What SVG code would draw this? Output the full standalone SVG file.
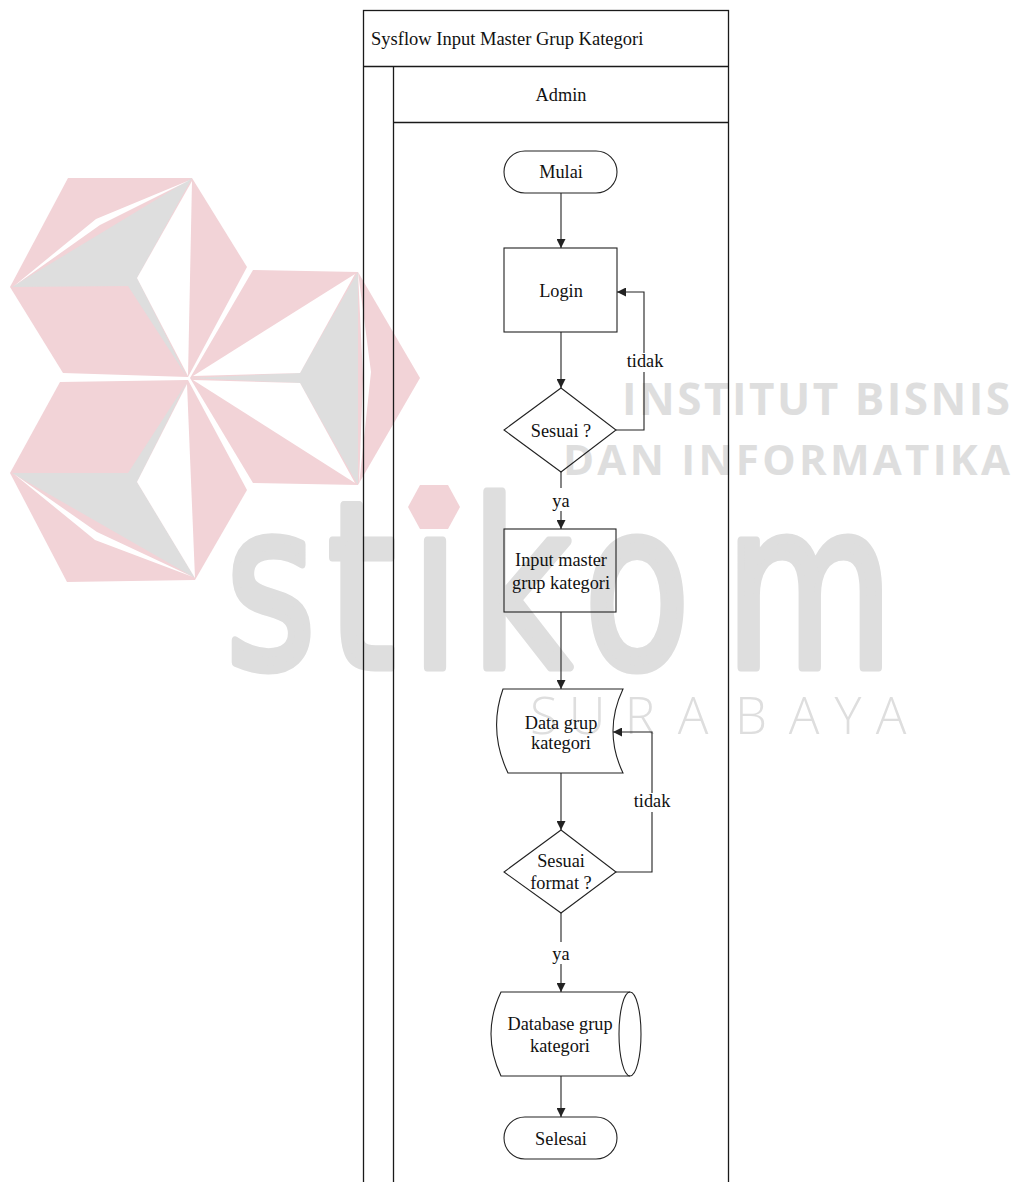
<svg xmlns="http://www.w3.org/2000/svg" width="1013" height="1182" viewBox="0 0 1013 1182">
<defs>
<marker id="arr" viewBox="0 0 10 10" refX="10" refY="5" markerUnits="userSpaceOnUse" markerWidth="9" markerHeight="9" orient="auto">
<path d="M0,0 L10,5 L0,10 z" fill="#222"/>
</marker>
<style>
.pk{fill:#f2d3d7;stroke:none}
.gr{fill:#dedede;stroke:none}
.wh{fill:#ffffff;stroke:none}
.wm{fill:#dedede}
.ln{fill:none;stroke:#222;stroke-width:1.1}
.fr{fill:none;stroke:#1a1a1a;stroke-width:1.3}
.sh{fill:none;stroke:#222;stroke-width:1.1}
.tx{font-family:"Liberation Serif","Times New Roman",serif;font-size:18.3px;fill:#111;text-anchor:middle}
.ti{font-family:"Liberation Serif","Times New Roman",serif;font-size:18.5px;fill:#111}
</style>
</defs>

<g id="watermark">
<polygon class="pk" points="68,178 192,178 247,267 188,377 63,373 10,287"/>
<polygon class="gr" points="192,178 12,287 128,286 187,377 137,278"/>
<polygon class="wh" points="137,278 192,181 188,376"/>
<polygon class="wh" points="190,180 96,219 14,286 100,225"/>
<polygon class="pk" points="253,270 358,272 420,378 358,485 253,483 190,378"/>
<polygon class="gr" points="358,272 300,373 190,378 300,383 358,485"/>
<polygon class="wh" points="193,376 355,274 300,373"/>
<polygon class="wh" points="193,380 300,383 355,483"/>
<polygon class="wh" points="358,272 371,372 359,485 363,378"/>
<polygon class="pk" points="60,382 188,380 247,490 195,580 67,582 10,473"/>
<polygon class="gr" points="12,473 128,473 187,382 137,482 195,578"/>
<polygon class="wh" points="137,482 187,384 195,578"/>
<polygon class="wh" points="14,474 97,532 193,577 95,540"/>
<text class="wm" transform="scale(0.75,1)" x="301 437 548 628 779 967" y="667" font-family="DejaVu Sans, sans-serif" font-size="230" stroke="#dedede" stroke-width="9" stroke-linejoin="round">stikom</text>
<polygon class="wh" points="405,507 418,482 450,482 463,507 450,532 418,532"/>
<polygon class="pk" points="408,507 420,485 448,485 460,507 448,529 420,529"/>
<text class="wm" x="622" y="415" font-family="Open Sans, DejaVu Sans, sans-serif" font-weight="bold" font-size="44" textLength="388" lengthAdjust="spacing">INSTITUT BISNIS</text>
<text class="wm" x="563" y="475" font-family="Open Sans, DejaVu Sans, sans-serif" font-weight="bold" font-size="42" textLength="447" lengthAdjust="spacing">DAN INFORMATIKA</text>
<text class="wm" x="544 587 640 693 751 804 848 891" y="734" text-anchor="middle" font-family="Open Sans, DejaVu Sans, sans-serif" font-weight="300" font-size="51">SURABAYA</text>
</g>

<g id="swimlane">
<rect class="fr" x="363.5" y="10.5" width="365" height="1180"/>
<line class="fr" x1="363.5" y1="66.5" x2="728.5" y2="66.5"/>
<line class="fr" x1="393.5" y1="66.5" x2="393.5" y2="1190"/>
<line class="fr" x1="393.5" y1="122.5" x2="728.5" y2="122.5"/>
<text class="ti" x="371" y="45">Sysflow Input Master Grup Kategori</text>
<text class="tx" x="561" y="101">Admin</text>
</g>

<g id="connectors">
<line class="ln" x1="561" y1="193" x2="561" y2="248" marker-end="url(#arr)"/>
<line class="ln" x1="561" y1="332" x2="561" y2="388" marker-end="url(#arr)"/>
<polyline class="ln" points="616,430 644,430 644,372"/>
<polyline class="ln" points="644,353 644,292 617,292" marker-end="url(#arr)"/>
<text class="tx" x="645" y="367">tidak</text>
<line class="ln" x1="561" y1="472" x2="561" y2="488"/>
<line class="ln" x1="561" y1="511" x2="561" y2="529" marker-end="url(#arr)"/>
<text class="tx" x="561" y="507">ya</text>
<line class="ln" x1="561" y1="612" x2="561" y2="689" marker-end="url(#arr)"/>
<line class="ln" x1="561" y1="773" x2="561" y2="830" marker-end="url(#arr)"/>
<polyline class="ln" points="616,872 652,872 652,812"/>
<polyline class="ln" points="652,793 652,732 613,732" marker-end="url(#arr)"/>
<text class="tx" x="652" y="807">tidak</text>
<line class="ln" x1="561" y1="913" x2="561" y2="942"/>
<line class="ln" x1="561" y1="964" x2="561" y2="992" marker-end="url(#arr)"/>
<text class="tx" x="561" y="960">ya</text>
<line class="ln" x1="561" y1="1076" x2="561" y2="1117" marker-end="url(#arr)"/>
</g>

<g id="mulai">
<rect class="sh" x="504" y="151" width="113" height="42" rx="21" ry="21"/>
<text class="tx" x="561" y="178">Mulai</text>
</g>

<g id="login">
<rect class="sh" x="504" y="248" width="113" height="84"/>
<text class="tx" x="561" y="297">Login</text>
</g>

<g id="sesuai1">
<polygon class="sh" points="561,388 616,430 561,472 504,430"/>
<text class="tx" x="561" y="437">Sesuai ?</text>
</g>

<g id="input">
<rect class="sh" x="504" y="529" width="112" height="83"/>
<text class="tx" x="561" y="566">Input master</text>
<text class="tx" x="561" y="589">grup kategori</text>
</g>

<g id="data">
<path class="sh" d="M503,689 L623,689 Q603,731 623,773 L508,773 Q488,731 503,689 Z"/>
<text class="tx" x="561" y="729">Data grup</text>
<text class="tx" x="561" y="749">kategori</text>
</g>

<g id="sesuai2">
<polygon class="sh" points="561,830 616,872 561,913 504,872"/>
<text class="tx" x="561" y="867">Sesuai</text>
<text class="tx" x="561" y="889">format ?</text>
</g>

<g id="database">
<path class="sh" d="M501,992 L630,992 A11,42 0 0 1 630,1076 L501,1076 Q481,1034 501,992 Z"/>
<path class="sh" d="M630,992 A11,42 0 0 0 630,1076"/>
<text class="tx" x="560" y="1030">Database grup</text>
<text class="tx" x="560" y="1052">kategori</text>
</g>

<g id="selesai">
<rect class="sh" x="504" y="1117" width="113" height="42" rx="21" ry="21"/>
<text class="tx" x="561" y="1145">Selesai</text>
</g>
</svg>
